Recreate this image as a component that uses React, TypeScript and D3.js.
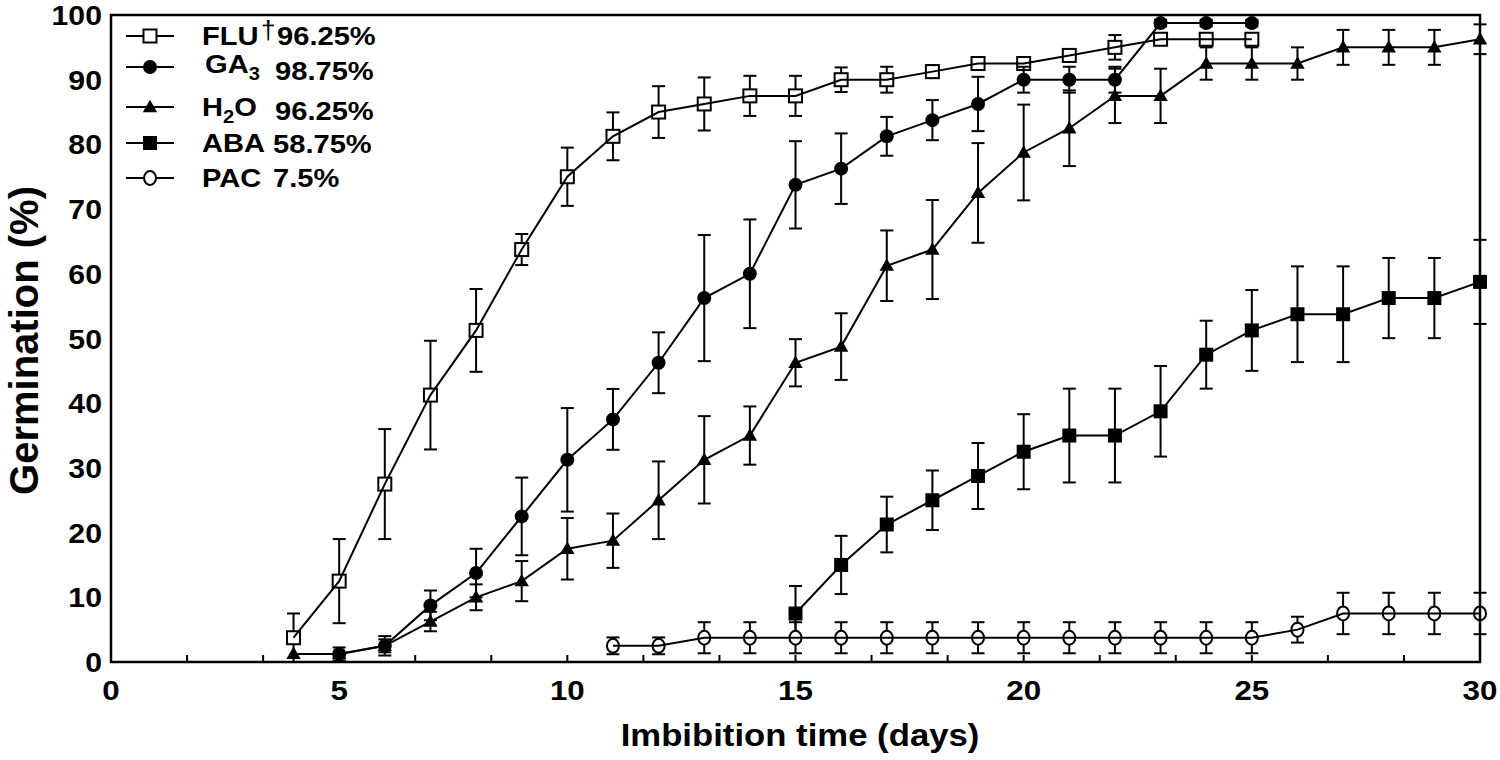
import React from "react";
import * as d3 from "d3";

// ---------- DATA ----------
const fluDays = [4, 5, 6, 7, 8, 9, 10, 11, 12, 13, 14, 15, 16, 17, 18, 19, 20, 21, 22, 23, 24, 25];
const fluMean = [3.75, 12.5, 27.5, 41.25, 51.25, 63.75, 75, 81.25, 85, 86.25, 87.5, 87.5, 90, 90, 91.25, 92.5, 92.5, 93.75, 95, 96.25, 96.25, 96.25];
const fluErr = [3.75, 6.5, 8.5, 8.4, 6.4, 2.4, 4.5, 3.7, 4, 4.1, 3.1, 3.1, 1.9, 2, 1, 1, 1, 1, 1.9, 0.7, 0.7, 0.7];

const gaDays = [5, 6, 7, 8, 9, 10, 11, 12, 13, 14, 15, 16, 17, 18, 19, 20, 21, 22, 23, 24, 25];
const gaMean = [1.25, 2.5, 8.75, 13.75, 22.5, 31.25, 37.5, 46.25, 56.25, 60, 73.75, 76.25, 81.25, 83.75, 86.25, 90, 90, 90, 98.75, 98.75, 98.75];
const gaErr = [1, 1.5, 2.3, 3.75, 6, 8, 4.7, 4.7, 9.75, 8.4, 6.75, 5.45, 3, 3.1, 4.2, 2, 2, 2, 0.5, 0.5, 0.5];

const h2oDays = [4, 5, 6, 7, 8, 9, 10, 11, 12, 13, 14, 15, 16, 17, 18, 19, 20, 21, 22, 23, 24, 25, 26, 27, 28, 29, 30];
const h2oMean = [1.25, 1.25, 2.5, 6.25, 10, 12.5, 17.5, 18.75, 25, 31.25, 35, 46.25, 48.75, 61.25, 63.75, 72.5, 78.75, 82.5, 87.5, 87.5, 92.5, 92.5, 92.5, 95, 95, 95, 96.25];
const h2oErr = [0, 0, 1, 1.5, 2, 3.1, 4.75, 4.2, 6, 6.75, 4.5, 3.65, 5.15, 5.45, 7.65, 7.7, 7.4, 5.85, 4.2, 4.2, 2.5, 2.5, 2.5, 2.7, 2.7, 2.7, 2.3];

const abaDays = [15, 16, 17, 18, 19, 20, 21, 22, 23, 24, 25, 26, 27, 28, 29, 30];
const abaMean = [7.5, 15, 21.25, 25, 28.75, 32.5, 35, 35, 38.75, 47.5, 51.25, 53.75, 53.75, 56.25, 56.25, 58.75];
const abaErr = [4.25, 4.5, 4.3, 4.6, 5.1, 5.8, 7.25, 7.25, 7, 5.25, 6.25, 7.4, 7.4, 6.2, 6.2, 6.5];

const pacDays = [11, 12, 13, 14, 15, 16, 17, 18, 19, 20, 21, 22, 23, 24, 25, 26, 27, 28, 29, 30];
const pacMean = [2.5, 2.5, 3.75, 3.75, 3.75, 3.75, 3.75, 3.75, 3.75, 3.75, 3.75, 3.75, 3.75, 3.75, 3.75, 5, 7.5, 7.5, 7.5, 7.5];
const pacErr = [1.3, 1.3, 2.4, 2.4, 2.4, 2.4, 2.4, 2.4, 2.4, 2.4, 2.4, 2.4, 2.4, 2.4, 2.4, 2, 3.2, 3.2, 3.2, 3.2];

const xTickLabels = [0, 5, 10, 15, 20, 25, 30];
const yTickLabels = [0, 10, 20, 30, 40, 50, 60, 70, 80, 90, 100];
const legendFinal = ["96.25%", "98.75%", "96.25%", "58.75%", "7.5%"];

// ---------- LAYOUT ----------
const W = 1500;
const H = 760;
const x = d3.scaleLinear().domain([0, 30]).range([111, 1480]);
const y = d3.scaleLinear().domain([0, 100]).range([662, 15]);
const FONT = "'Liberation Sans', Arial, Helvetica, sans-serif";
const SX = 1.12; // horizontal stretch of the reference lettering

type Kind = "openSquare" | "filledCircle" | "triangle" | "filledSquare" | "openCircle";

function Marker({ kind, cx, cy }: { kind: Kind; cx: number; cy: number }) {
  const s = 13;
  if (kind === "openSquare")
    return <rect x={cx - s / 2} y={cy - s / 2} width={s} height={s} fill="white" stroke="black" strokeWidth={2} />;
  if (kind === "filledSquare")
    return <rect x={cx - 7} y={cy - 7} width={14} height={14} fill="black" />;
  if (kind === "filledCircle") return <circle cx={cx} cy={cy} r={7} fill="black" />;
  if (kind === "openCircle")
    return <ellipse cx={cx} cy={cy} rx={6} ry={7} fill="white" stroke="black" strokeWidth={2} />;
  const tri = d3.symbol().type(d3.symbolTriangle).size(90)();
  return <path d={tri || ""} transform={`translate(${cx},${cy + 1})`} fill="black" />;
}

function Series({ days, mean, err, kind }: { days: number[]; mean: number[]; err: number[]; kind: Kind }) {
  const pts = days.map((d, i) => ({ d, m: mean[i], e: err[i] }));
  const line = d3
    .line<{ d: number; m: number }>()
    .x((p) => x(p.d))
    .y((p) => y(p.m));
  const cap = 6.5;
  return (
    <g>
      {pts.map((p, i) =>
        p.e > 0 ? (
          <g key={"e" + i} stroke="black" strokeWidth={2}>
            <line x1={x(p.d)} x2={x(p.d)} y1={y(p.m + p.e)} y2={y(p.m - p.e)} />
            <line x1={x(p.d) - cap} x2={x(p.d) + cap} y1={y(p.m + p.e)} y2={y(p.m + p.e)} />
            <line x1={x(p.d) - cap} x2={x(p.d) + cap} y1={y(p.m - p.e)} y2={y(p.m - p.e)} />
          </g>
        ) : null
      )}
      {pts.map((p, i) => (
        <Marker key={"m" + i} kind={kind} cx={x(p.d)} cy={y(p.m)} />
      ))}
      <path d={line(pts) || ""} fill="none" stroke="black" strokeWidth={2} />
    </g>
  );
}

function SText({ x: tx, y: ty, size, anchor = "start", weight = "bold", children }: any) {
  return (
    <text
      transform={`translate(${tx},${ty}) scale(${SX},1)`}
      textAnchor={anchor}
      fontSize={size}
      fontWeight={weight}
    >
      {children}
    </text>
  );
}

export default function App() {
  const minorTicks = d3.range(0, 30.001, 5 / 3);
  const legendKinds: Kind[] = ["openSquare", "filledCircle", "triangle", "filledSquare", "openCircle"];
  const legendY = [36, 67, 107, 143, 178];
  return (
    <svg width={W} height={H} style={{ position: "absolute", left: 0, top: 0 }} fontFamily={FONT}>
      <rect x={0} y={0} width={W} height={H} fill="white" />
      {/* series */}
      <Series days={fluDays} mean={fluMean} err={fluErr} kind="openSquare" />
      <Series days={h2oDays} mean={h2oMean} err={h2oErr} kind="triangle" />
      <Series days={gaDays} mean={gaMean} err={gaErr} kind="filledCircle" />
      <Series days={abaDays} mean={abaMean} err={abaErr} kind="filledSquare" />
      <Series days={pacDays} mean={pacMean} err={pacErr} kind="openCircle" />

      {/* frame */}
      <rect x={x(0)} y={y(100)} width={x(30) - x(0)} height={y(0) - y(100)} fill="none" stroke="black" strokeWidth={2.5} />
      {minorTicks.map((t, i) => (
        <line key={i} x1={x(t)} x2={x(t)} y1={y(0)} y2={y(0) - 7} stroke="black" strokeWidth={2} />
      ))}
      {xTickLabels.map((t) => (
        <SText key={t} x={x(t)} y={700} size={28} anchor="middle">
          {t}
        </SText>
      ))}
      {yTickLabels.map((t) => (
        <SText key={t} x={102} y={y(t) + 10} size={27} anchor="end">
          {t}
        </SText>
      ))}
      <SText x={800} y={746} size={31} anchor="middle">
        Imbibition time (days)
      </SText>
      <text
        transform={`translate(38,${(y(0) + y(100)) / 2 + 2}) rotate(-90)`}
        textAnchor="middle"
        fontSize={40}
        fontWeight="bold"
      >
        Germination (%)
      </text>

      {/* legend */}
      {legendKinds.map((k, i) => (
        <g key={k}>
          <line x1={126} x2={174} y1={legendY[i]} y2={legendY[i]} stroke="black" strokeWidth={2} />
          <Marker kind={k} cx={150} cy={legendY[i]} />
        </g>
      ))}
      <SText x={202} y={legendY[0] + 9} size={26}>FLU</SText>
      <text x={261} y={legendY[0] + 3} fontSize={26}>†</text>
      <SText x={205} y={legendY[1] + 6} size={26}>
        GA<tspan fontSize={18} dy={7}>3</tspan>
      </SText>
      <SText x={202} y={legendY[2] + 9} size={26}>
        H<tspan fontSize={18} dy={7}>2</tspan><tspan dy={-7}>O</tspan>
      </SText>
      <SText x={202} y={legendY[3] + 9} size={26}>ABA</SText>
      <SText x={202} y={legendY[4] + 9} size={26}>PAC</SText>
      {legendFinal.map((v, i) => (
        <SText key={i} x={[277, 275, 275, 273, 273][i]} y={legendY[i] + [9, 13, 13, 10, 9][i]} size={26}>
          {v}
        </SText>
      ))}
    </svg>
  );
}
